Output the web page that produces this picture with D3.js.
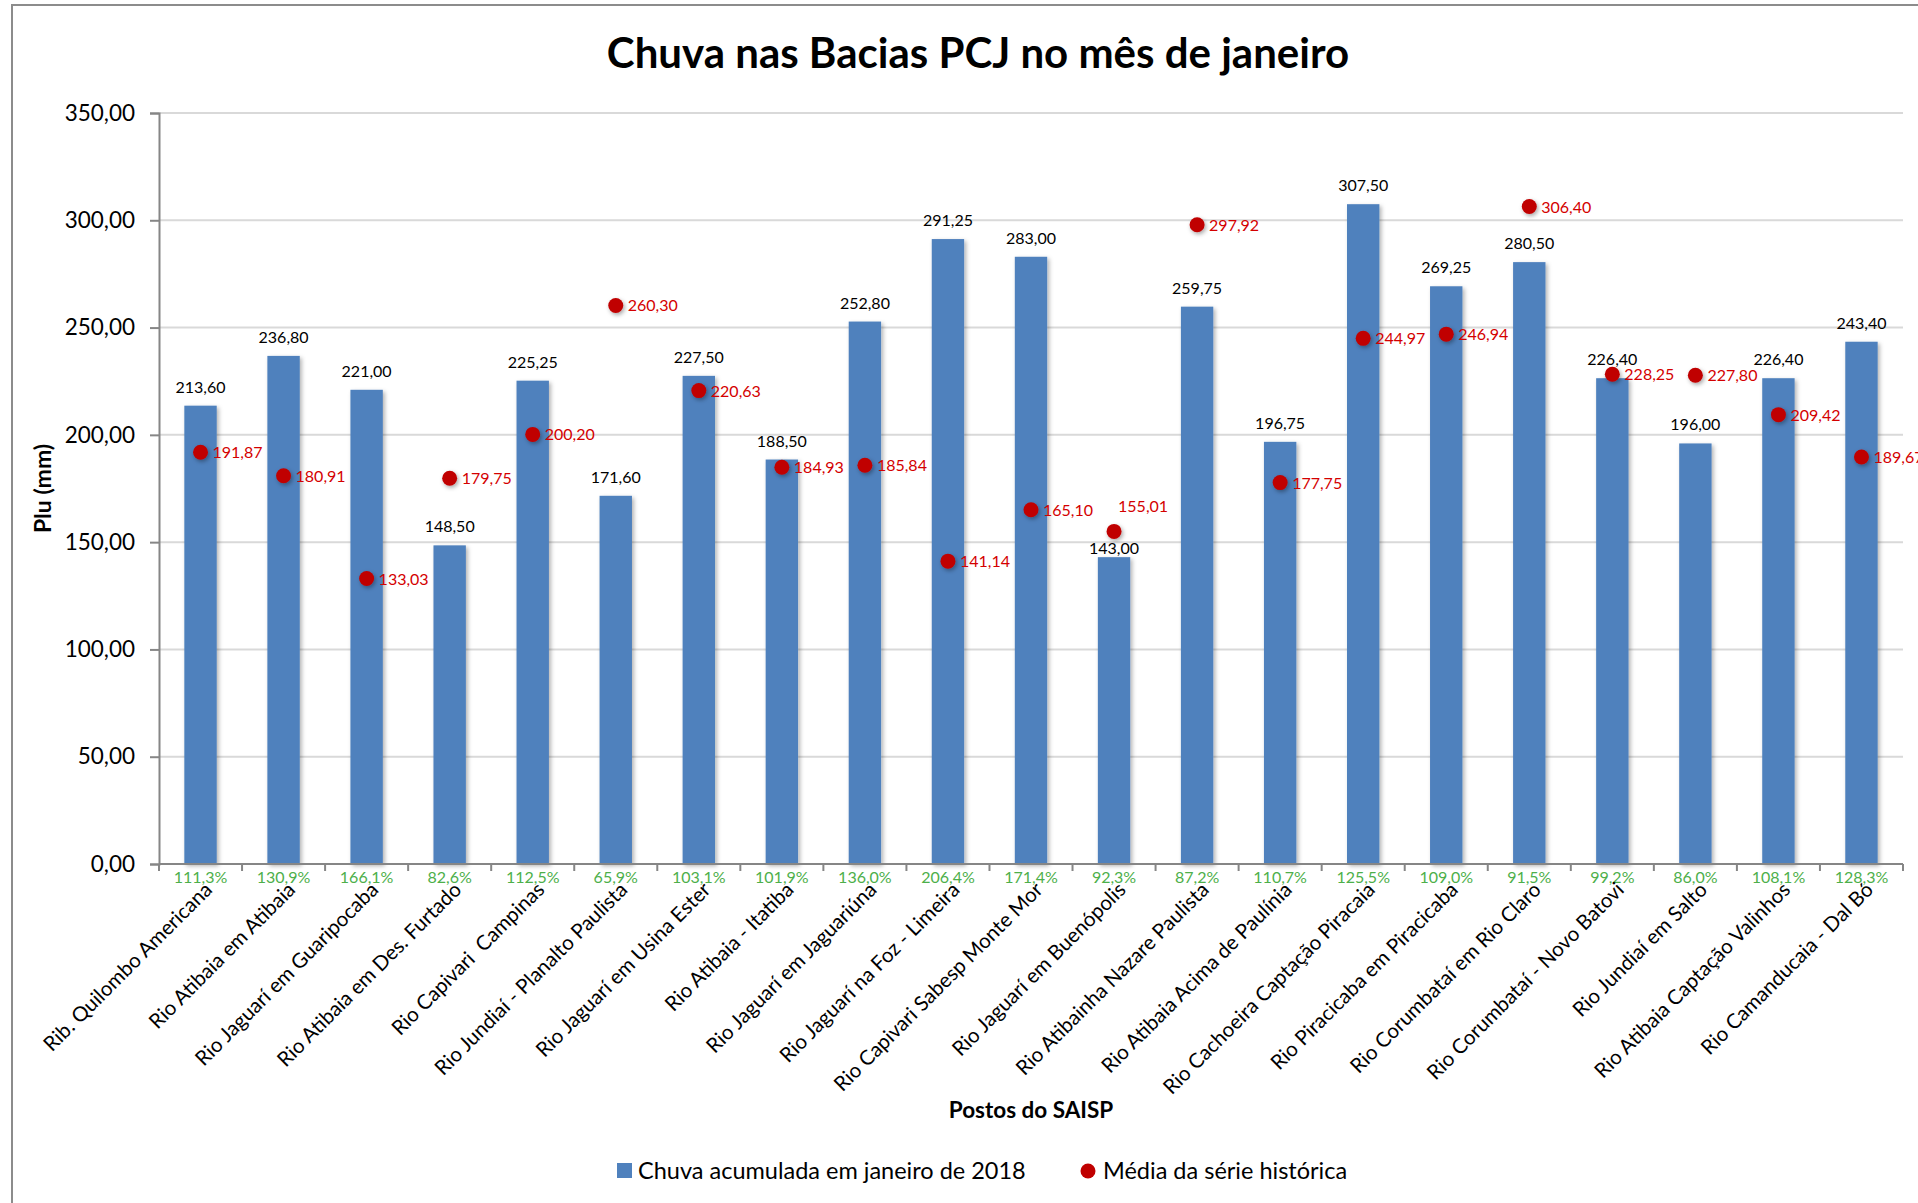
<!DOCTYPE html>
<html>
<head>
<meta charset="utf-8">
<script src="https://cdn.jsdelivr.net/npm/d3@7"></script>
<style>
  html, body { margin: 0; padding: 0; background: #ffffff; }
  svg { display: block; }
  text { font-family: Lato, "Open Sans", sans-serif; }
</style>
</head>
<body>
<svg id="chart" width="1918" height="1203"></svg>
<script>
// ---------------- DATA ----------------
const categories = [
  "Rib. Quilombo Americana",
  "Rio Atibaia em Atibaia",
  "Rio Jaguarí em Guaripocaba",
  "Rio Atibaia em Des. Furtado",
  "Rio Capivari  Campinas",
  "Rio Jundiaí - Planalto Paulista",
  "Rio Jaguarí em Usina Ester",
  "Rio Atibaia - Itatiba",
  "Rio Jaguarí em Jaguariúna",
  "Rio Jaguarí na Foz - Limeira",
  "Rio Capivari Sabesp Monte Mor",
  "Rio Jaguarí em Buenópolis",
  "Rio Atibainha Nazare Paulista",
  "Rio Atibaia Acima de Paulínia",
  "Rio Cachoeira Captação Piracaia",
  "Rio Piracicaba em Piracicaba",
  "Rio Corumbataí em Rio Claro",
  "Rio Corumbataí - Novo Batovi",
  "Rio Jundiaí em Salto",
  "Rio Atibaia Captação Valinhos",
  "Rio Camanducaia - Dal Bó"
];
const chuva2018 = [213.60, 236.80, 221.00, 148.50, 225.25, 171.60, 227.50, 188.50, 252.80, 291.25,
                   283.00, 143.00, 259.75, 196.75, 307.50, 269.25, 280.50, 226.40, 196.00, 226.40, 243.40];
const mediaHistorica = [191.87, 180.91, 133.03, 179.75, 200.20, 260.30, 220.63, 184.93, 185.84, 141.14,
                        165.10, 155.01, 297.92, 177.75, 244.97, 246.94, 306.40, 228.25, 227.80, 209.42, 189.67];
const percentual = [111.3, 130.9, 166.1, 82.6, 112.5, 65.9, 103.1, 101.9, 136.0, 206.4,
                    171.4, 92.3, 87.2, 110.7, 125.5, 109.0, 91.5, 99.2, 86.0, 108.1, 128.3];
const yTicks = [0, 50, 100, 150, 200, 250, 300, 350];

const titleText = "Chuva nas Bacias PCJ no mês de janeiro";
const yTitle = "Plu (mm)";
const xTitle = "Postos do SAISP";
const legendBar = "Chuva acumulada em janeiro de 2018";
const legendDot = "Média da série histórica";

// ---------------- LAYOUT ----------------
const W = 1918, H = 1203;
const plot = { left: 159, right: 1903, top: 113, bottom: 864 };
const BAR = "#4F81BD", DOT = "#C00000", DOTTXT = "#D40000", GREEN = "#4DAF4A";

const fmt2 = v => d3.format(".2f")(v).replace(".", ",");
const fmtPct = v => d3.format(".1f")(v).replace(".", ",") + "%";

const svg = d3.select("#chart");

const defs = svg.append("defs");
const sh = defs.append("filter").attr("id", "shadow")
  .attr("x", "-30%").attr("y", "-10%").attr("width", "160%").attr("height", "130%");
sh.append("feDropShadow").attr("dx", 2).attr("dy", 2).attr("stdDeviation", 2)
  .attr("flood-color", "#000").attr("flood-opacity", 0.3);
const sh2 = defs.append("filter").attr("id", "dshadow")
  .attr("x", "-60%").attr("y", "-60%").attr("width", "220%").attr("height", "220%");
sh2.append("feDropShadow").attr("dx", 1.5).attr("dy", 2).attr("stdDeviation", 2)
  .attr("flood-color", "#000").attr("flood-opacity", 0.35);

svg.append("rect").attr("width", W).attr("height", H).attr("fill", "#fff");
// outer chart frame (cropped at right/bottom)
svg.append("rect").attr("x", 12).attr("y", 5).attr("width", W + 50).attr("height", H + 50)
  .attr("fill", "none").attr("stroke", "#8c8c8c").attr("stroke-width", 2);

const x = d3.scaleBand().domain(categories).range([plot.left, plot.right]).padding(0);
const y = d3.scaleLinear().domain([0, 350]).range([plot.bottom, plot.top]);
const barW = x.bandwidth() * 0.39;
const cx = c => x(c) + x.bandwidth() / 2;

// gridlines
svg.append("g").selectAll("line").data(yTicks.filter(d => d > 0)).join("line")
  .attr("x1", plot.left).attr("x2", plot.right)
  .attr("y1", d => y(d)).attr("y2", d => y(d))
  .attr("stroke", "#d9d9d9").attr("stroke-width", 2);

// y axis
const yAxis = d3.axisLeft(y).tickValues(yTicks).tickSize(9).tickPadding(15).tickFormat(fmt2);
const gy = svg.append("g").attr("transform", `translate(${plot.left},0)`).call(yAxis);
gy.select(".domain").attr("stroke", "#868686").attr("stroke-width", 2);
gy.selectAll(".tick line").attr("stroke", "#868686").attr("stroke-width", 2);
gy.selectAll(".tick text").attr("font-size", 22.5).attr("fill", "#000")
  .style("font-family", "Lato, 'Open Sans', sans-serif");

// bars
svg.append("g").selectAll("rect").data(categories).join("rect")
  .attr("x", c => cx(c) - barW / 2)
  .attr("y", (c, i) => y(chuva2018[i]))
  .attr("width", barW)
  .attr("height", (c, i) => y(0) - y(chuva2018[i]))
  .attr("fill", BAR)
  .attr("filter", "url(#shadow)");

// x axis
const xAxisLine = svg.append("g");
xAxisLine.append("line").attr("x1", plot.left).attr("x2", plot.right)
  .attr("y1", y(0)).attr("y2", y(0)).attr("stroke", "#868686").attr("stroke-width", 2);
const bounds = categories.map(c => x(c)).concat([plot.right]);
xAxisLine.selectAll("line.tk").data(bounds).join("line").attr("class", "tk")
  .attr("x1", d => d).attr("x2", d => d)
  .attr("y1", y(0)).attr("y2", y(0) + 7)
  .attr("stroke", "#868686").attr("stroke-width", 2);

// bar value labels
svg.append("g").selectAll("text").data(categories).join("text")
  .attr("x", c => cx(c))
  .attr("y", (c, i) => y(chuva2018[i]) - (i === 11 ? 3 : 13))
  .attr("text-anchor", "middle").attr("font-size", 16).attr("fill", "#000")
  .text((c, i) => fmt2(chuva2018[i]));

// historical mean dots
svg.append("g").selectAll("circle").data(categories).join("circle")
  .attr("cx", c => cx(c))
  .attr("cy", (c, i) => y(mediaHistorica[i]))
  .attr("r", 7.5)
  .attr("fill", DOT)
  .attr("filter", "url(#dshadow)");

// dot labels
svg.append("g").selectAll("text").data(categories).join("text")
  .attr("x", (c, i) => cx(c) + (i === 11 ? 4 : 12))
  .attr("y", (c, i) => y(mediaHistorica[i]) + (i === 11 ? -19 : 6))
  .attr("font-size", 16).attr("fill", DOTTXT)
  .text((c, i) => fmt2(mediaHistorica[i]));

// percent labels
svg.append("g").selectAll("text").data(categories).join("text")
  .attr("x", c => cx(c))
  .attr("y", y(0) + 19)
  .attr("text-anchor", "middle").attr("font-size", 16).attr("fill", GREEN)
  .text((c, i) => fmtPct(percentual[i]));

// category labels
svg.append("g").selectAll("text").data(categories).join("text")
  .attr("transform", c => `translate(${cx(c) + 13},${y(0) + 27}) rotate(-45)`)
  .attr("text-anchor", "end").attr("font-size", 20.5).attr("fill", "#000")
  .style("white-space", "pre")
  .text(c => c);

// title
svg.append("text").attr("x", 978).attr("y", 68).attr("text-anchor", "middle")
  .attr("font-size", 42).attr("font-weight", "bold").attr("fill", "#000").text(titleText);

// axis titles
svg.append("text").attr("transform", `translate(51,${(plot.top + plot.bottom) / 2}) rotate(-90)`)
  .attr("text-anchor", "middle").attr("font-size", 23).attr("font-weight", "bold").text(yTitle);
svg.append("text").attr("x", (plot.left + plot.right) / 2).attr("y", 1118)
  .attr("text-anchor", "middle").attr("font-size", 22.5).attr("font-weight", "bold").text(xTitle);

// legend
const lg = svg.append("g");
lg.append("rect").attr("x", 617).attr("y", 1163).attr("width", 15).attr("height", 15).attr("fill", BAR);
lg.append("text").attr("x", 638).attr("y", 1179).attr("font-size", 23.5).text(legendBar);
lg.append("circle").attr("cx", 1088).attr("cy", 1171).attr("r", 7.5).attr("fill", DOT);
lg.append("text").attr("x", 1103).attr("y", 1179).attr("font-size", 23.5).text(legendDot);
</script>
</body>
</html>
